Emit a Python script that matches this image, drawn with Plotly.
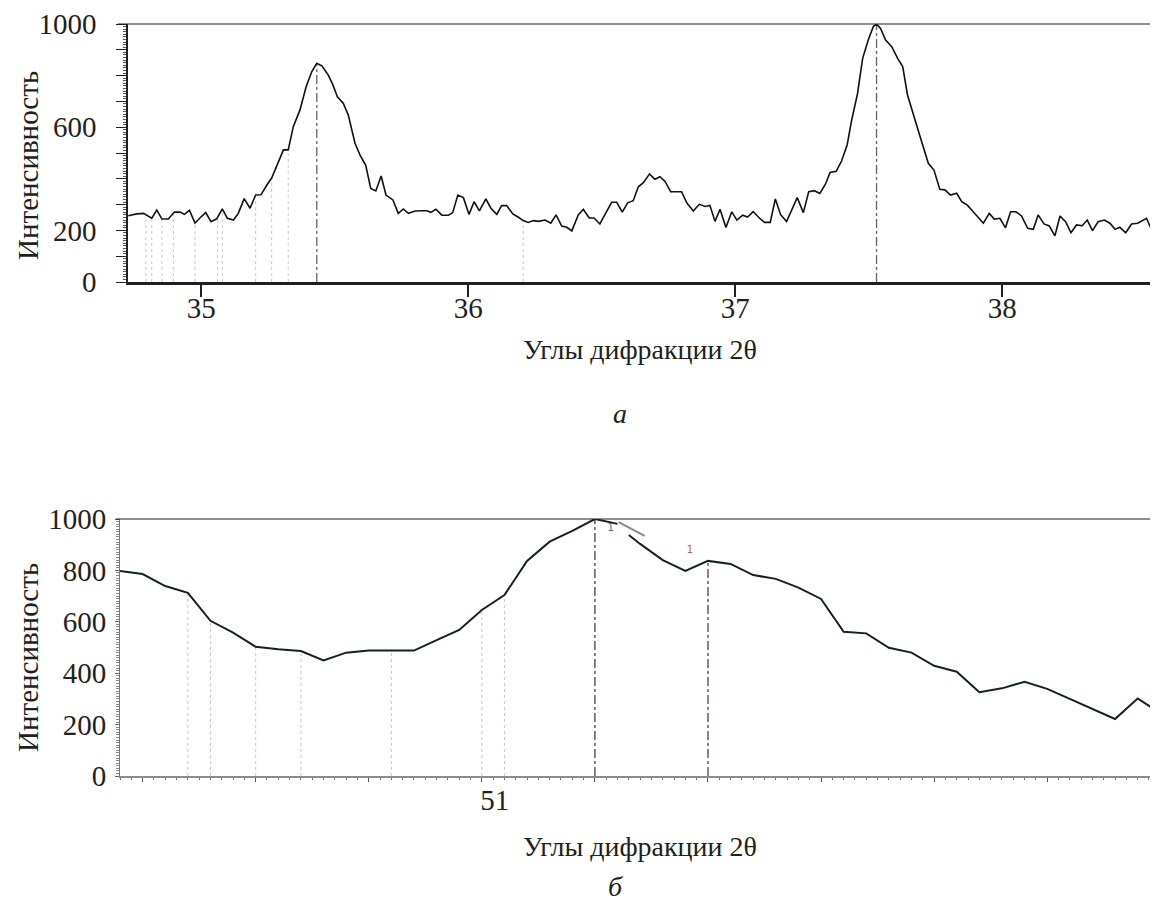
import numpy as np
import plotly.graph_objects as go

# ---------------- data: panel (a) ----------------
top_2theta = [
    34.727, 34.759, 34.784, 34.815, 34.834, 34.853, 34.877, 34.900, 34.921, 34.937,
    34.956, 34.977, 34.996, 35.017, 35.037, 35.058, 35.079, 35.098, 35.121, 35.139,
    35.161, 35.183, 35.204, 35.224, 35.246, 35.264, 35.287, 35.308, 35.326, 35.345,
    35.370, 35.393, 35.414, 35.433, 35.452, 35.476, 35.493, 35.510, 35.532, 35.551,
    35.576, 35.595, 35.616, 35.635, 35.654, 35.674, 35.692, 35.718, 35.738, 35.757,
    35.776, 35.801, 35.826, 35.845, 35.860, 35.879, 35.901, 35.926, 35.942, 35.961,
    35.982, 36.003, 36.022, 36.042, 36.066, 36.085, 36.107, 36.125, 36.144, 36.167,
    36.188, 36.206, 36.225, 36.244, 36.262, 36.288, 36.309, 36.329, 36.350, 36.369,
    36.388, 36.412, 36.431, 36.453, 36.471, 36.493, 36.516, 36.537, 36.556, 36.577,
    36.597, 36.618, 36.637, 36.656, 36.679, 36.699, 36.718, 36.737, 36.758, 36.799,
    36.819, 36.843, 36.865, 36.887, 36.905, 36.924, 36.943, 36.965, 36.987, 37.006,
    37.028, 37.046, 37.067, 37.091, 37.110, 37.131, 37.150, 37.170, 37.192, 37.211,
    37.232, 37.255, 37.275, 37.296, 37.317, 37.338, 37.355, 37.378, 37.398, 37.419,
    37.436, 37.458, 37.477, 37.498, 37.517, 37.529, 37.544, 37.563, 37.586, 37.608,
    37.627, 37.645, 37.669, 37.694, 37.723, 37.744, 37.766, 37.785, 37.806, 37.829,
    37.848, 37.869, 37.891, 37.910, 37.929, 37.951, 37.970, 37.991, 38.012, 38.031,
    38.051, 38.072, 38.095, 38.116, 38.134, 38.156, 38.176, 38.197, 38.216, 38.237,
    38.257, 38.278, 38.299, 38.318, 38.338, 38.359, 38.382, 38.403, 38.422, 38.440,
    38.462, 38.484, 38.507, 38.540, 38.559, 38.583,
]
top_intensity = [
    257, 264, 266, 247, 279, 244, 244, 271, 271, 262,
    278, 228, 249, 269, 234, 245, 283, 247, 240, 266,
    323, 286, 337, 338, 376, 403, 460, 512, 512, 602,
    667, 757, 815, 848, 838, 802, 765, 718, 693, 647,
    538, 492, 453, 363, 353, 411, 337, 318, 266, 283,
    266, 275, 276, 276, 270, 282, 259, 259, 269, 337,
    327, 262, 311, 276, 322, 286, 262, 296, 296, 264,
    251, 238, 231, 238, 235, 240, 228, 260, 217, 212,
    198, 260, 282, 248, 248, 225, 269, 309, 309, 271,
    307, 315, 369, 385, 419, 398, 408, 390, 350, 350,
    306, 275, 301, 293, 297, 235, 282, 211, 272, 240,
    259, 252, 273, 247, 231, 231, 322, 261, 234, 279,
    327, 269, 350, 354, 343, 380, 425, 429, 469, 531,
    628, 731, 867, 938, 990, 1000, 983, 938, 912, 867,
    835, 725, 647, 557, 460, 434, 359, 357, 337, 344,
    311, 298, 272, 251, 228, 266, 244, 247, 210, 272,
    272, 256, 208, 204, 260, 225, 217, 179, 256, 234,
    191, 221, 218, 240, 199, 234, 240, 228, 204, 212,
    191, 225, 228, 247, 202, 214,
]
top_guide_2theta = [34.793, 34.815, 34.853, 34.896, 34.977, 35.061, 35.079,
                    35.204, 35.264, 35.326, 36.206]
top_peak_2theta = [35.433, 37.529]
top_xtick_vals = [35, 36, 37, 38]
top_ytick_vals = [0, 100, 200, 300, 400, 500, 600, 700, 800, 900, 1000]
top_ytick_text = ["0", "", "200", "", "", "", "600", "", "", "", "1000"]

# ---------------- data: panel (б) ----------------
bot_2theta = [
    50.68, 50.70, 50.72, 50.74, 50.76, 50.78, 50.80, 50.82, 50.84, 50.86,
    50.88, 50.90, 50.92, 50.94, 50.96, 50.98, 51.00, 51.02, 51.04, 51.06,
    51.08, 51.10, 51.12, 51.125, 51.13, 51.14, 51.16, 51.18, 51.20, 51.22,
    51.24, 51.26, 51.28, 51.30, 51.32, 51.34, 51.36, 51.38, 51.40, 51.42,
    51.44, 51.46, 51.48, 51.50, 51.52, 51.54, 51.56, 51.58, 51.60,
]
bot_intensity = [
    798, 786, 739, 713, 604, 558, 503, 493, 486, 450,
    480, 488, 488, 488, 529, 568, 646, 704, 837, 912,
    954, 1000, 981, None, 938, 903, 840, 798, 837, 825,
    782, 767, 733, 689, 561, 555, 499, 480, 429, 406,
    326, 341, 367, 339, 300, 261, 222, 302, 244,
]
bot_guide_2theta = [50.74, 50.76, 50.80, 50.84, 50.92, 51.00, 51.02]
bot_peak_2theta = [51.10, 51.20]
bot_tangent_2theta = [51.121, 51.144]
bot_tangent_intensity = [988, 934]
bot_label_text = ["1", "1"]
bot_label_2theta = [51.114, 51.184]
bot_label_intensity = [962, 879]
bot_xtick_vals = [50.7, 50.8, 50.9, 51.0, 51.1, 51.2, 51.3, 51.4, 51.5]
bot_xtick_text = ["", "", "", "51", "", "", "", "", ""]
bot_ytick_vals = [0, 200, 400, 600, 800, 1000]

# ---------------- helpers ----------------
def clean(xs, ys):
    pairs = [(x, y) for x, y in zip(xs, ys) if y is not None]
    return np.array([p[0] for p in pairs]), np.array([p[1] for p in pairs])


def drop_lines(xs, curve_x, curve_y):
    cx, cy = clean(curve_x, curve_y)
    lx, ly = [], []
    for x in xs:
        lx += [x, x, None]
        ly += [0, float(np.interp(x, cx, cy)), None]
    return lx, ly


FONT = "Liberation Serif"
INK = "#231f20"
OFF = 8                      # page body margin of the html page
W, H = 1158 - OFF, 904 - OFF


def px(xp):                  # page pixel -> paper fraction (x)
    return (xp - OFF) / W


def py(yp):                  # page pixel -> paper fraction (y)
    return 1 - (yp - OFF) / H


fig = go.Figure()

# panel a guides
gx, gy = drop_lines(top_guide_2theta, top_2theta, top_intensity)
fig.add_trace(go.Scatter(x=gx, y=gy, mode="lines", xaxis="x", yaxis="y",
                         line=dict(color="#c8c8c8", width=1, dash="dot"),
                         hoverinfo="skip", showlegend=False))
lx, ly = drop_lines(top_peak_2theta, top_2theta, top_intensity)
fig.add_trace(go.Scatter(x=lx, y=ly, mode="lines", xaxis="x", yaxis="y",
                         line=dict(color="#6e6060", width=1.3, dash="dashdot"),
                         hoverinfo="skip", showlegend=False))
fig.add_trace(go.Scatter(x=top_2theta, y=top_intensity, mode="lines",
                         xaxis="x", yaxis="y",
                         line=dict(color="#111111", width=1.6),
                         showlegend=False))

# panel b guides
gx, gy = drop_lines(bot_guide_2theta, bot_2theta, bot_intensity)
fig.add_trace(go.Scatter(x=gx, y=gy, mode="lines", xaxis="x2", yaxis="y2",
                         line=dict(color="#c8c8c8", width=1, dash="dot"),
                         hoverinfo="skip", showlegend=False))
peak_colors = ["#333333", "#5a2a2a"]
for xv, col in zip(bot_peak_2theta, peak_colors):
    lx, ly = drop_lines([xv], bot_2theta, bot_intensity)
    fig.add_trace(go.Scatter(x=lx, y=ly, mode="lines", xaxis="x2", yaxis="y2",
                             line=dict(color=col, width=1.2, dash="dashdot"),
                             hoverinfo="skip", showlegend=False))
fig.add_trace(go.Scatter(x=bot_2theta, y=bot_intensity, mode="lines",
                         xaxis="x2", yaxis="y2", connectgaps=False,
                         line=dict(color="#142222", width=2),
                         showlegend=False))
fig.add_trace(go.Scatter(x=bot_tangent_2theta, y=bot_tangent_intensity,
                         mode="lines", xaxis="x2", yaxis="y2",
                         line=dict(color="#8a8a8a", width=2),
                         hoverinfo="skip", showlegend=False))
fig.add_trace(go.Scatter(x=bot_label_2theta, y=bot_label_intensity,
                         mode="text", text=bot_label_text, xaxis="x2", yaxis="y2",
                         textfont=dict(family="DejaVu Sans", size=10,
                                       color=["#3a6ea8", "#b0683a"]),
                         hoverinfo="skip", showlegend=False))

tick_font = dict(family=FONT, size=29, color=INK)

fig.update_layout(
    width=W, height=H,
    margin=dict(l=0, r=0, t=0, b=0, pad=0),
    paper_bgcolor="white", plot_bgcolor="white",
    showlegend=False,
    xaxis=dict(domain=[px(128), 1.0], anchor="y", automargin=False,
               range=[34.726, 38.583], tickmode="array", tickvals=top_xtick_vals,
               ticks="outside", ticklen=12, tickwidth=2, tickcolor=INK,
               ticklabelstandoff=-14,
               showline=True, linewidth=2.5, linecolor=INK,
               showgrid=False, zeroline=False, tickfont=tick_font),
    yaxis=dict(domain=[py(282), py(24)], anchor="x", automargin=False,
               range=[0, 1000], tickmode="array", tickvals=top_ytick_vals,
               ticktext=top_ytick_text,
               ticks="outside", ticklen=10, tickwidth=1, tickcolor=INK,
               ticklabelstandoff=14,
               minor=dict(dtick=10, ticklen=3, tickcolor="#555555", ticks="outside"),
               showline=True, linewidth=1.5, linecolor=INK,
               showgrid=False, zeroline=False, tickfont=tick_font),
    xaxis2=dict(domain=[px(120), 1.0], anchor="y2", automargin=False,
                range=[50.68, 51.598], tickmode="array", tickvals=bot_xtick_vals,
                ticktext=bot_xtick_text, ticklabelshift=13, ticklabelstandoff=-7,
                ticks="outside", ticklen=4, tickwidth=1, tickcolor="#555555",
                minor=dict(tickmode="linear", tick0=50.68, dtick=0.01, ticklen=2,
                           tickcolor="#777777", ticks="outside"),
                showline=True, linewidth=2, linecolor="#8c8c8c",
                showgrid=False, zeroline=False, tickfont=tick_font),
    yaxis2=dict(domain=[py(776), py(519)], anchor="x2", automargin=False,
                range=[0, 1000], tickmode="array", tickvals=bot_ytick_vals,
                ticks="outside", ticklen=4, tickwidth=1, tickcolor="#666666",
                ticklabelstandoff=3,
                minor=dict(dtick=10, ticklen=3, tickcolor="#888888", ticks="outside"),
                showline=True, linewidth=1, linecolor="#777777",
                showgrid=False, zeroline=False, tickfont=tick_font),
    shapes=[
        dict(type="line", xref="x domain", yref="y domain", x0=-0.01, x1=1,
             y0=1, y1=1, line=dict(color=INK, width=1.2)),
        dict(type="line", xref="x2 domain", yref="y2 domain", x0=-0.004, x1=1,
             y0=1, y1=1, line=dict(color=INK, width=1.2)),
    ],
)

title_font = dict(family=FONT, size=28, color=INK)
ytitle_font = dict(family=FONT, size=29, color=INK)
annots = [
    dict(text="Интенсивность", x=px(28), y=py(166), textangle=-90, font=ytitle_font),
    dict(text="Интенсивность", x=px(28), y=py(658), textangle=-90, font=ytitle_font),
    dict(text="Углы дифракции 2θ", x=px(640), y=py(349), font=title_font),
    dict(text="Углы дифракции 2θ", x=px(640), y=py(846), font=title_font),
    dict(text="<i>а</i>", x=px(620), y=py(413), font=title_font),
    dict(text="<i>б</i>", x=px(615), y=py(886), font=title_font),
]
for a in annots:
    fig.add_annotation(xref="paper", yref="paper", showarrow=False,
                       xanchor="center", yanchor="middle", **a)

fig.write_html("out.html")
